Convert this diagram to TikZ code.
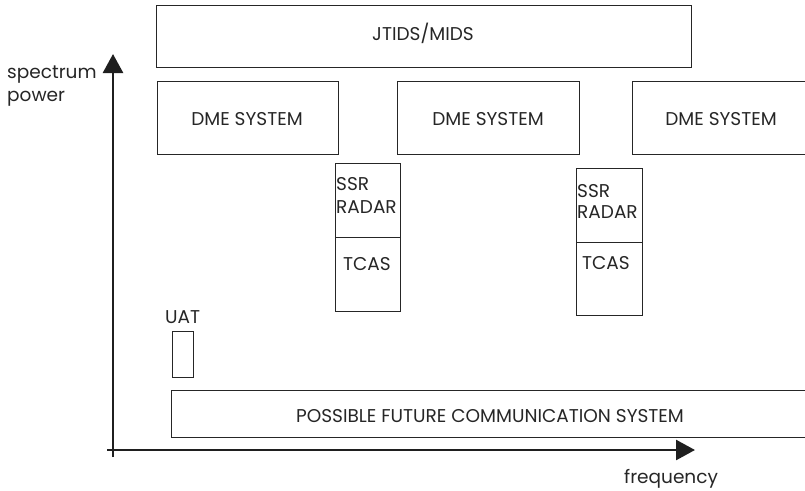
\documentclass[tikz,border=0pt]{standalone}
\usepackage{fontspec}
\setmainfont{Poppins}
\usetikzlibrary{arrows.meta}
\begin{document}
\begin{tikzpicture}[x=1pt,y=-1pt,
  box/.style={draw=black!85, line width=1pt, rectangle, inner sep=0pt, anchor=north west},
  txt/.style={text=black!85, font=\fontsize{18.5}{23}\selectfont, inner sep=0pt},
  axis/.style={line width=2.6pt, draw=black!88, -{Triangle[length=19pt,width=20pt]}}]
\useasboundingbox (0,0) rectangle (805,490);
\clip (0,0) rectangle (805,490);
% boxes
\node[box, minimum width=535, minimum height=62] (jtids) at (156,5) {};
\node[txt, anchor=base] (jtidsT) at (423,40) {JTIDS/MIDS};
\node[box, minimum width=181, minimum height=73] (dme1) at (157,81) {};
\node[txt, anchor=base] (dme1T) at (247,125) {DME SYSTEM};
\node[box, minimum width=182, minimum height=73] (dme2) at (397,81) {};
\node[txt, anchor=base] (dme2T) at (488,125) {DME SYSTEM};
\node[box, minimum width=178, minimum height=73] (dme3) at (632,81) {};
\node[txt, anchor=base] (dme3T) at (721,125) {DME SYSTEM};
% SSR / TCAS 1
\node[box, minimum width=65, minimum height=74] (ssr1) at (335,163) {};
\node[txt, anchor=base west] (ssr1a) at (336,190) {SSR};
\node[txt, anchor=base west] (ssr1b) at (336,213) {RADAR};
\node[box, minimum width=65, minimum height=74] (tcas1) at (335,237) {};
\node[txt, anchor=base west] (tcas1T) at (343,270) {TCAS};
% SSR / TCAS 2
\node[box, minimum width=66, minimum height=74] (ssr2) at (576,168) {};
\node[txt, anchor=base west] (ssr2a) at (577,197) {SSR};
\node[txt, anchor=base west] (ssr2b) at (577,218) {RADAR};
\node[box, minimum width=66, minimum height=73] (tcas2) at (576,242) {};
\node[txt, anchor=base west] (tcas2T) at (582,269) {TCAS};
% UAT
\node[box, minimum width=21, minimum height=46] (uat) at (172,331) {};
\node[txt, anchor=base west] (uatT) at (165,323) {UAT};
% future
\node[box, minimum width=638, minimum height=47] (fut) at (171,390) {};
\node[txt, anchor=base] (futT) at (490,422) {POSSIBLE FUTURE COMMUNICATION SYSTEM};
% axes
\coordinate (ybot) at (113,457);
\coordinate (ytop) at (113,54);
\coordinate (xleft) at (107,450);
\coordinate (xright) at (695,450);
\draw[axis] (ybot) -- (ytop);
\draw[axis] (xleft) -- (xright);
\node[txt, anchor=base west] (ylab1) at (7,78) {spectrum};
\node[txt, anchor=base west] (ylab2) at (7,101) {power};
\node[txt, anchor=base west] (xlab) at (624,483) {frequency};
\end{tikzpicture}
\end{document}
